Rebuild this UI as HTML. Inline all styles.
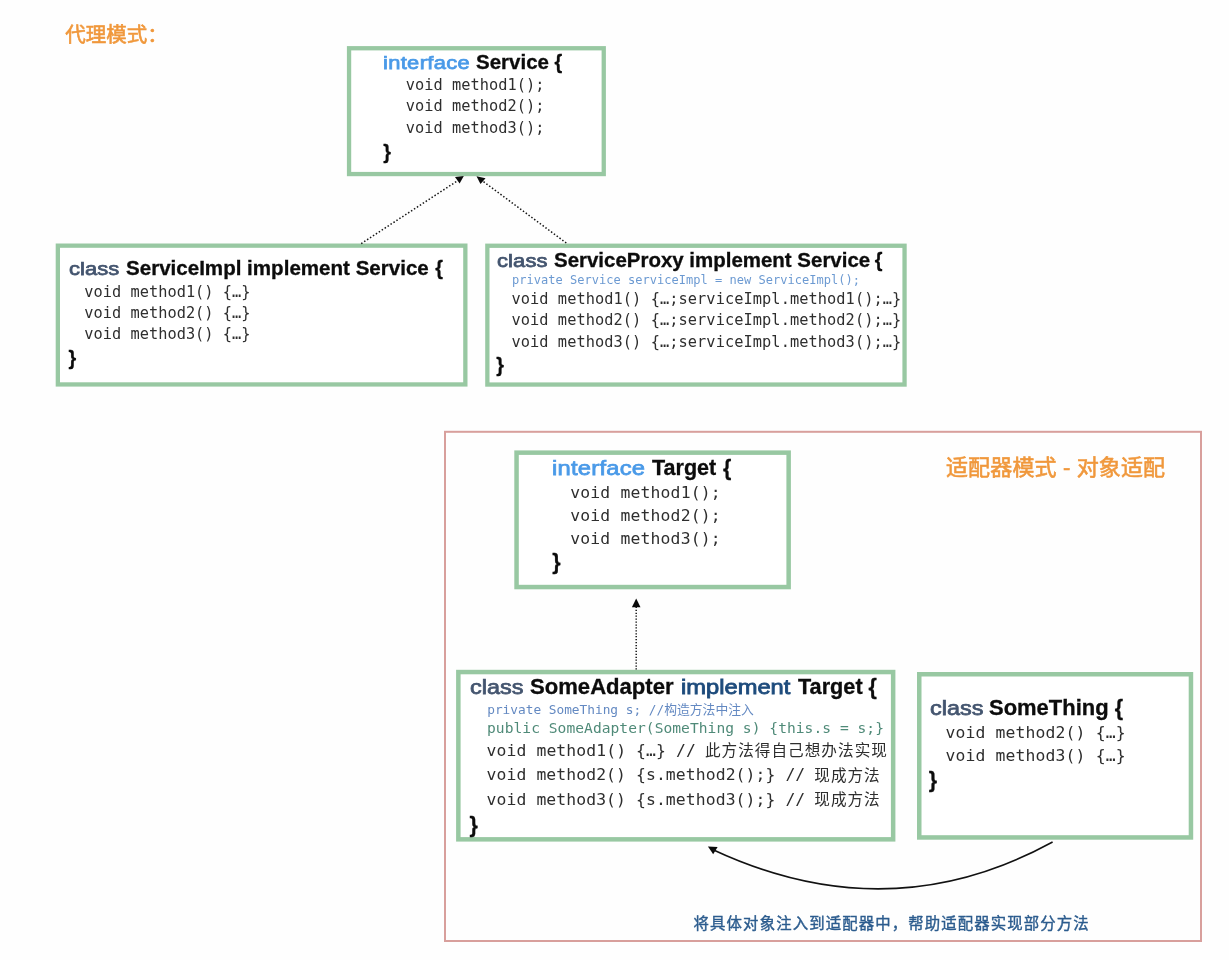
<!DOCTYPE html>
<html lang="zh-CN">
<head>
<meta charset="utf-8">
<title>代理模式 / 适配器模式 - 对象适配</title>
<style>
html,body{margin:0;padding:0;background:#fefefe;}
body{width:1229px;height:960px;position:relative;overflow:hidden;font-family:"Liberation Sans","Noto Sans CJK SC",sans-serif;color:#111;}
.art{position:absolute;left:0;top:0;display:block;}
.stage{position:absolute;left:0;top:0;width:1229px;height:960px;filter:blur(0.45px);}
.t{position:absolute;white-space:pre;line-height:1;margin:0;padding:0;transform-origin:0 0;}
.s{font-family:"Liberation Sans","Noto Sans CJK SC",sans-serif;}
.m{font-family:"DejaVu Sans Mono","Liberation Mono","Noto Sans CJK SC",monospace;}
.b{font-weight:bold;}
.w5{font-weight:500;}
</style>
</head>
<body>
<div class="stage">
<svg class="art" width="1229" height="960" viewBox="0 0 1229 960" aria-hidden="true">
<rect x="445.00" y="431.80" width="756.00" height="509.20" fill="none" stroke="#d89f9c" stroke-width="2.0"/>
<rect x="349.05" y="48.25" width="254.70" height="125.80" fill="#fff" stroke="#98c8a2" stroke-width="4.3"/>
<rect x="57.85" y="245.65" width="407.50" height="138.80" fill="#fff" stroke="#98c8a2" stroke-width="4.3"/>
<rect x="487.35" y="245.75" width="417.20" height="138.80" fill="#fff" stroke="#98c8a2" stroke-width="4.3"/>
<rect x="516.55" y="452.65" width="272.10" height="134.40" fill="#fff" stroke="#98c8a2" stroke-width="4.5"/>
<rect x="458.35" y="672.05" width="434.80" height="167.30" fill="#fff" stroke="#98c8a2" stroke-width="4.5"/>
<rect x="919.25" y="674.25" width="271.70" height="163.20" fill="#fff" stroke="#98c8a2" stroke-width="4.5"/>
<g stroke="#151515" stroke-width="1.5" fill="none" stroke-dasharray="1.5 2">
<line x1="361.2" y1="243.6" x2="457.5" y2="180.8"/>
<line x1="566.3" y1="243" x2="482.6" y2="181"/>
</g>
<line x1="636.2" y1="669.6" x2="636.2" y2="606.5" stroke="#151515" stroke-width="1.5" fill="none" stroke-dasharray="1.25 1.68"/>
<g fill="#0a0a0a">
<polygon points="463.8,176.0 455.0,177.0 459.6,183.5"/>
<polygon points="476.5,176.2 485.5,178.2 480.5,184.0"/>
<polygon points="636.2,598.6 640.5,607.2 631.9,607.2"/>
<polygon points="707.9,846.5 717.6,846.9 713.2,854.2"/>
</g>
<path d="M1052.6,842 C930,909.1 814.3,897.1 712.5,849.5" stroke="#111" stroke-width="1.55" fill="none"/>
</svg>
<main>
<div class="t s" style="left:65.27px;top:25px;font-size:20.5px;color:#f0983c;-webkit-text-stroke:0.6px #f0983c;">代理模式：</div>
<div class="t s" style="left:382.77px;top:54px;font-size:18.9px;color:#4a9ae8;letter-spacing:0.281px;transform:scaleX(1.1600);-webkit-text-stroke:0.75px #4a9ae8;">interface</div>
<div class="t s b" style="left:475.76px;top:53px;font-size:19.8px;color:#0c0c0c;transform:scaleX(1.0366);-webkit-text-stroke:0.3px #0c0c0c;">Service</div>
<div class="t s b" style="left:554.53px;top:53px;font-size:19.8px;color:#0c0c0c;-webkit-text-stroke:0.3px #0c0c0c;">{</div>
<div class="t m" style="left:405.85px;top:78px;font-size:15.3px;color:#2e2e2e;letter-spacing:0.041px;">void method1();</div>
<div class="t m" style="left:405.85px;top:99px;font-size:15.3px;color:#2e2e2e;letter-spacing:0.041px;">void method2();</div>
<div class="t m" style="left:405.85px;top:121px;font-size:15.3px;color:#2e2e2e;letter-spacing:0.041px;">void method3();</div>
<div class="t s b" style="left:383.23px;top:143px;font-size:19.8px;color:#0c0c0c;-webkit-text-stroke:0.3px #0c0c0c;">}</div>
<div class="t s" style="left:69.40px;top:260px;font-size:18.9px;color:#44556f;letter-spacing:0.047px;transform:scaleX(1.1600);-webkit-text-stroke:0.75px #44556f;">class</div>
<div class="t s b" style="left:126.36px;top:259px;font-size:19.8px;color:#0c0c0c;transform:scaleX(1.0392);-webkit-text-stroke:0.3px #0c0c0c;">ServiceImpl implement Service</div>
<div class="t s b" style="left:435.33px;top:259px;font-size:19.8px;color:#0c0c0c;-webkit-text-stroke:0.3px #0c0c0c;">{</div>
<div class="t m" style="left:84.25px;top:285px;font-size:15.3px;color:#2e2e2e;letter-spacing:0.030px;">void method1() {…}</div>
<div class="t m" style="left:84.25px;top:306px;font-size:15.3px;color:#2e2e2e;letter-spacing:0.030px;">void method2() {…}</div>
<div class="t m" style="left:84.25px;top:327px;font-size:15.3px;color:#2e2e2e;letter-spacing:0.030px;">void method3() {…}</div>
<div class="t s b" style="left:68.43px;top:349px;font-size:19.8px;color:#0c0c0c;-webkit-text-stroke:0.3px #0c0c0c;">}</div>
<div class="t s" style="left:497.00px;top:252px;font-size:18.9px;color:#44556f;letter-spacing:0.112px;transform:scaleX(1.1600);-webkit-text-stroke:0.75px #44556f;">class</div>
<div class="t s b" style="left:554.17px;top:251px;font-size:19.8px;color:#0c0c0c;transform:scaleX(1.0343);-webkit-text-stroke:0.3px #0c0c0c;">ServiceProxy implement Service</div>
<div class="t s b" style="left:874.83px;top:251px;font-size:19.8px;color:#0c0c0c;-webkit-text-stroke:0.3px #0c0c0c;">{</div>
<div class="t m" style="left:511.89px;top:274px;font-size:12.0px;color:#6c9ad2;letter-spacing:0.028px;">private Service serviceImpl = new ServiceImpl();</div>
<div class="t m" style="left:511.45px;top:292px;font-size:15.3px;color:#2e2e2e;letter-spacing:0.073px;">void method1() {…;serviceImpl.method1();…}</div>
<div class="t m" style="left:511.45px;top:313px;font-size:15.3px;color:#2e2e2e;letter-spacing:0.073px;">void method2() {…;serviceImpl.method2();…}</div>
<div class="t m" style="left:511.45px;top:335px;font-size:15.3px;color:#2e2e2e;letter-spacing:0.073px;">void method3() {…;serviceImpl.method3();…}</div>
<div class="t s b" style="left:496.23px;top:356px;font-size:19.8px;color:#0c0c0c;-webkit-text-stroke:0.3px #0c0c0c;">}</div>
<div class="t s" style="left:945.96px;top:457px;font-size:22px;color:#f0983c;letter-spacing:0.143px;-webkit-text-stroke:0.6px #f0983c;">适配器模式 - 对象适配</div>
<div class="t s" style="left:552.14px;top:458px;font-size:20.5px;color:#4a9ae8;letter-spacing:0.200px;transform:scaleX(1.1600);-webkit-text-stroke:0.75px #4a9ae8;">interface</div>
<div class="t s b" style="left:652.31px;top:458px;font-size:21.4px;color:#0c0c0c;transform:scaleX(1.0064);-webkit-text-stroke:0.3px #0c0c0c;">Target</div>
<div class="t s b" style="left:723.01px;top:458px;font-size:21.4px;color:#0c0c0c;-webkit-text-stroke:0.3px #0c0c0c;">{</div>
<div class="t m" style="left:570.20px;top:485px;font-size:16.4px;color:#2e2e2e;letter-spacing:0.172px;">void method1();</div>
<div class="t m" style="left:570.20px;top:508px;font-size:16.4px;color:#2e2e2e;letter-spacing:0.172px;">void method2();</div>
<div class="t m" style="left:570.20px;top:531px;font-size:16.4px;color:#2e2e2e;letter-spacing:0.172px;">void method3();</div>
<div class="t s b" style="left:552.20px;top:552px;font-size:21.4px;color:#0c0c0c;-webkit-text-stroke:0.3px #0c0c0c;">}</div>
<div class="t s" style="left:470.43px;top:677px;font-size:20.5px;color:#44556f;transform:scaleX(1.1427);-webkit-text-stroke:0.75px #44556f;">class</div>
<div class="t s b" style="left:530.32px;top:677px;font-size:21.4px;color:#0c0c0c;transform:scaleX(1.0322);-webkit-text-stroke:0.3px #0c0c0c;">SomeAdapter</div>
<div class="t s" style="left:681.08px;top:677px;font-size:20.5px;color:#1d4b7c;transform:scaleX(1.1562);-webkit-text-stroke:0.8px #1d4b7c;">implement</div>
<div class="t s b" style="left:797.71px;top:677px;font-size:21.4px;color:#0c0c0c;transform:scaleX(1.0127);-webkit-text-stroke:0.3px #0c0c0c;">Target</div>
<div class="t s b" style="left:868.61px;top:677px;font-size:21.4px;color:#0c0c0c;-webkit-text-stroke:0.3px #0c0c0c;">{</div>
<div class="t m" style="left:487.21px;top:704px;font-size:12.8px;color:#6389c2;letter-spacing:-0.008px;">private SomeThing s; //构造方法中注入</div>
<div class="t m" style="left:487.05px;top:721px;font-size:14.6px;color:#4f8a78;letter-spacing:0.035px;">public SomeAdapter(SomeThing s) {this.s = s;}</div>
<div class="t m" style="left:486.60px;top:743px;font-size:16.4px;color:#2e2e2e;letter-spacing:0.100px;">void method1() {…} //</div>
<div class="t m" style="left:704.91px;top:744px;font-size:15.6px;color:#2e2e2e;letter-spacing:1.044px;">此方法得自己想办法实现</div>
<div class="t m" style="left:486.60px;top:767px;font-size:16.4px;color:#2e2e2e;letter-spacing:0.092px;">void method2() {s.method2();} //</div>
<div class="t m" style="left:814.33px;top:769px;font-size:15.6px;color:#2e2e2e;letter-spacing:0.967px;">现成方法</div>
<div class="t m" style="left:486.60px;top:792px;font-size:16.4px;color:#2e2e2e;letter-spacing:0.092px;">void method3() {s.method3();} //</div>
<div class="t m" style="left:814.33px;top:793px;font-size:15.6px;color:#2e2e2e;letter-spacing:0.967px;">现成方法</div>
<div class="t s b" style="left:469.40px;top:815px;font-size:21.4px;color:#0c0c0c;-webkit-text-stroke:0.3px #0c0c0c;">}</div>
<div class="t s" style="left:929.73px;top:698px;font-size:20.5px;color:#44556f;transform:scaleX(1.1427);-webkit-text-stroke:0.75px #44556f;">class</div>
<div class="t s b" style="left:989.32px;top:698px;font-size:21.4px;color:#0c0c0c;transform:scaleX(1.0268);-webkit-text-stroke:0.3px #0c0c0c;">SomeThing</div>
<div class="t s b" style="left:1114.81px;top:698px;font-size:21.4px;color:#0c0c0c;-webkit-text-stroke:0.3px #0c0c0c;">{</div>
<div class="t m" style="left:945.40px;top:725px;font-size:16.4px;color:#2e2e2e;letter-spacing:0.150px;">void method2() {…}</div>
<div class="t m" style="left:945.40px;top:748px;font-size:16.4px;color:#2e2e2e;letter-spacing:0.150px;">void method3() {…}</div>
<div class="t s b" style="left:928.70px;top:770px;font-size:21.4px;color:#0c0c0c;-webkit-text-stroke:0.3px #0c0c0c;">}</div>
<div class="t s" style="left:693.60px;top:916px;font-size:15.4px;color:#2c5c8e;letter-spacing:1.118px;-webkit-text-stroke:0.4px #2c5c8e;">将具体对象注入到适配器中，帮助适配器实现部分方法</div>
</main>
</div>
</body>
</html>
